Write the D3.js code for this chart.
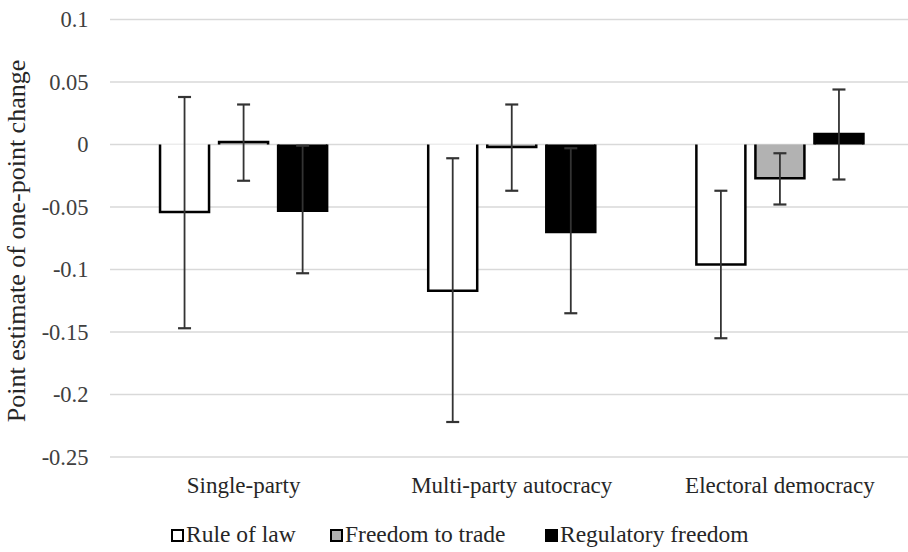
<!DOCTYPE html>
<html><head><meta charset="utf-8">
<script src="https://cdn.jsdelivr.net/npm/d3@7"></script>
<style>body{margin:0;background:#fff}svg{display:block}</style>
</head><body>
<svg id="c" width="908" height="552"></svg>
<script>
const categories = ["Single-party", "Multi-party autocracy", "Electoral democracy"];
const seriesNames = ["Rule of law", "Freedom to trade", "Regulatory freedom"];
const ruleOfLaw = [-0.054, -0.117, -0.096];
const ruleOfLawLow = [-0.147, -0.222, -0.155];
const ruleOfLawHigh = [0.038, -0.011, -0.037];
const freedomToTrade = [0.002, -0.002, -0.027];
const freedomToTradeLow = [-0.029, -0.037, -0.048];
const freedomToTradeHigh = [0.032, 0.032, -0.007];
const regulatory = [-0.053, -0.070, 0.0085];
const regulatoryLow = [-0.103, -0.135, -0.028];
const regulatoryHigh = [-0.001, -0.003, 0.044];
const yTicks = [0.1, 0.05, 0, -0.05, -0.1, -0.15, -0.2, -0.25];
const yTickLabels = ["0.1", "0.05", "0", "-0.05", "-0.1", "-0.15", "-0.2", "-0.25"];
const fills = ["#ffffff", "#b2b2b2", "#000000"];

const FONT = '"Liberation Serif"';
const vals = [ruleOfLaw, freedomToTrade, regulatory];
const lows = [ruleOfLawLow, freedomToTradeLow, regulatoryLow];
const highs = [ruleOfLawHigh, freedomToTradeHigh, regulatoryHigh];

const svg = d3.select("#c");
const y = d3.scaleLinear().domain([-0.25, 0.1]).range([457, 19.5]);
const x0 = d3.scaleBand().domain(categories).range([109.5, 914]).padding(0);
const x1 = d3.scaleBand().domain(seriesNames).range([0, x0.bandwidth()]).paddingInner(0.17).paddingOuter(0.856);

// grid
svg.append("g").selectAll("line").data(yTicks).join("line")
  .attr("x1", 110).attr("x2", 908)
  .attr("y1", d => y(d)).attr("y2", d => y(d))
  .attr("stroke", "#d9d9d9").attr("stroke-width", 1.5);

// y axis labels
const yAxis = d3.axisLeft(y).tickValues(yTicks).tickSize(0).tickPadding(0)
  .tickFormat((d, i) => yTickLabels[i]);
const ya = svg.append("g").attr("transform", "translate(88.5,0)").call(yAxis);
ya.attr("font-family", null).attr("font-size", null);
ya.select(".domain").remove();
ya.selectAll("text").style("font-family", FONT).style("font-size", "22.5px")
  .attr("fill", "#404040").attr("dy", "0.33em");

// y title
svg.append("text").attr("transform", "translate(25,241) rotate(-90)")
  .attr("text-anchor", "middle").attr("fill", "#262626")
  .style("font-family", FONT).style("font-size", "26px")
  .text("Point estimate of one-point change");

// bars
const data = [];
categories.forEach((c, i) => seriesNames.forEach((s, j) => data.push({c, s, j, v: vals[j][i], lo: lows[j][i], hi: highs[j][i]})));

const bars = svg.append("g");
data.forEach(d => {
  const xl = x0(d.c) + x1(d.s), w = x1.bandwidth();
  const yv = y(d.v), y0 = y(0);
  bars.append("rect").attr("x", xl).attr("width", w)
    .attr("y", Math.min(yv, y0)).attr("height", Math.abs(yv - y0))
    .attr("fill", fills[d.j]);
  bars.append("path")
    .attr("d", `M${xl},${y0}L${xl},${yv}L${xl + w},${yv}L${xl + w},${y0}`)
    .attr("fill", "none").attr("stroke", "#000").attr("stroke-width", 2.5);
});

// error bars
const eb = svg.append("g").attr("stroke", "#333").attr("stroke-width", 1.8);
data.forEach(d => {
  const cx = x0(d.c) + x1(d.s) + x1.bandwidth() / 2;
  eb.append("line").attr("x1", cx).attr("x2", cx).attr("y1", y(d.hi)).attr("y2", y(d.lo));
  eb.append("line").attr("x1", cx - 6.5).attr("x2", cx + 6.5).attr("y1", y(d.hi)).attr("y2", y(d.hi)).attr("stroke-width", 2.2);
  eb.append("line").attr("x1", cx - 6.5).attr("x2", cx + 6.5).attr("y1", y(d.lo)).attr("y2", y(d.lo)).attr("stroke-width", 2.2);
});

// category labels
svg.append("g").selectAll("text").data(categories).join("text")
  .attr("x", d => x0(d) + x0.bandwidth() / 2).attr("y", 493)
  .attr("text-anchor", "middle").attr("fill", "#262626")
  .style("font-family", FONT).style("font-size", "23px")
  .text(d => d);

// legend
const legX = [171, 330, 545];
const lg = svg.append("g");
seriesNames.forEach((s, j) => {
  lg.append("rect").attr("x", legX[j] + 1).attr("y", 530).attr("width", 11).attr("height", 11)
    .attr("fill", fills[j]).attr("stroke", "#000").attr("stroke-width", 2);
  lg.append("text").attr("x", legX[j] + 15).attr("y", 542).attr("fill", "#262626")
    .style("font-family", FONT).style("font-size", "23.5px").text(s);
});
</script>
</body></html>
